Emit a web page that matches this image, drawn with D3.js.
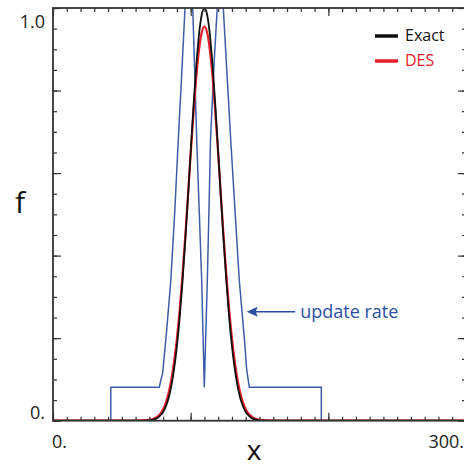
<!DOCTYPE html>
<meta charset="utf-8">
<script src="https://d3js.org/d3.v7.min.js"></script>
<style>
  body { margin: 0; background: #fff; }
  text { font-family: "Open Sans", "Noto Sans", sans-serif; }
</style>
<div id="my_dataviz"></div>
<script>

// values
var xCurve = [0, 60, 70, 75, 78, 80, 82, 84, 86, 88, 90, 92, 94, 96, 98, 100, 102, 104, 106, 108, 110,
              112, 114, 116, 118, 120, 122, 124, 126, 128, 130, 132, 134, 136, 138, 140, 142, 145, 150, 160, 300];
var fExact = [0, 0, 0.001, 0.005, 0.013, 0.021, 0.035, 0.055, 0.085, 0.126, 0.180, 0.249, 0.334, 0.432, 0.539, 0.651, 0.760, 0.857, 0.934, 0.983, 1.000,
              0.983, 0.934, 0.857, 0.760, 0.651, 0.539, 0.432, 0.334, 0.249, 0.180, 0.126, 0.085, 0.055, 0.035, 0.021, 0.013, 0.005, 0.001, 0, 0];
var fDES   = [0, 0, 0.002, 0.008, 0.017, 0.028, 0.044, 0.068, 0.100, 0.144, 0.199, 0.268, 0.350, 0.443, 0.543, 0.646, 0.743, 0.830, 0.897, 0.940, 0.955,
              0.940, 0.897, 0.830, 0.743, 0.646, 0.543, 0.443, 0.350, 0.268, 0.199, 0.144, 0.100, 0.068, 0.044, 0.028, 0.017, 0.008, 0.002, 0, 0];

// update rate (goes above the top of the frame, clipped there)
var xRate = [42, 42, 77.2, 78.4, 79.7, 82.6, 85.6, 88.5, 91.0, 93.5, 95.9, 97.5, 98.8, 100.2, 101.5, 103.0, 104.4, 106.2, 108.0, 109.9,
             112.1, 113.3, 114.4, 116.9, 119.3, 120.5, 121.5, 122.6, 123.7, 126.4, 129.1, 132.2, 135.3, 139.5, 140.7, 142.6, 194.9, 194.9];
var fRate = [0, 0.081, 0.081, 0.099, 0.116, 0.220, 0.341, 0.510, 0.680, 0.840, 1.0, 1.10, 1.14, 1.10, 1.0, 0.840, 0.680, 0.510, 0.341, 0.081,
             0.341, 0.510, 0.680, 0.860, 1.0, 1.10, 1.14, 1.10, 1.0, 0.840, 0.680, 0.510, 0.341, 0.179, 0.123, 0.081, 0.081, 0];

var xTickVals = [0, 300], xTickNames = ["0.", "300."];
var yTickVals = [0, 1], yTickNames = ["0.", "1.0"];
var seriesNames = ["Exact", "DES"];
var seriesColors = ["#111111", "#e8202a"];

var blue = "#3d5da8";

var svg = d3.select("#my_dataviz")
  .append("svg")
    .attr("width", 464)
    .attr("height", 467);

var x = d3.scaleLinear().domain([0, 300]).range([53, 466]);
var y = d3.scaleLinear().domain([0, 1]).range([420.7, 8]);

svg.append("clipPath").attr("id", "clip")
  .append("rect")
    .attr("x", x(0)).attr("y", y(1))
    .attr("width", x(300) - x(0)).attr("height", y(0) - y(1));

var line = d3.line()
  .x(function(d) { return x(d[0]) })
  .y(function(d) { return y(d[1]) });

// update rate
svg.append("path")
  .datum(d3.zip(xRate, fRate))
  .attr("clip-path", "url(#clip)")
  .attr("fill", "none")
  .attr("stroke", blue)
  .attr("stroke-width", 1.5)
  .attr("d", line);

// DES then Exact
svg.append("path")
  .datum(d3.zip(xCurve, fDES))
  .attr("clip-path", "url(#clip)")
  .attr("fill", "none")
  .attr("stroke", seriesColors[1])
  .attr("stroke-width", 2.2)
  .attr("d", d3.line().curve(d3.curveMonotoneX).x(function(d) { return x(d[0]) }).y(function(d) { return y(d[1]) }));

svg.append("path")
  .datum(d3.zip(xCurve, fExact))
  .attr("clip-path", "url(#clip)")
  .attr("fill", "none")
  .attr("stroke", seriesColors[0])
  .attr("stroke-width", 1.8)
  .attr("d", d3.line().curve(d3.curveMonotoneX).x(function(d) { return x(d[0]) }).y(function(d) { return y(d[1]) }));

// axes: ticks all pointing inward
var xMinor = d3.range(0, 301, 10), xMajor = [0, 100, 200, 300];
var yMinor = d3.range(0, 1.0001, 0.05), yMajor = [0, 0.2, 0.4, 0.6, 0.8, 1.0];

function addAxis(axis, tx, ty) {
  var g = svg.append("g")
    .attr("transform", "translate(" + tx + "," + ty + ")")
    .call(axis);
  g.select(".domain").remove();
  g.selectAll(".tick line").attr("stroke", "#333").attr("stroke-width", 1.2);
}

addAxis(d3.axisBottom(x).tickValues(xMinor).tickSize(-4).tickFormat(""), 0, y(0));
addAxis(d3.axisBottom(x).tickValues(xMajor).tickSize(-8).tickFormat(""), 0, y(0));
addAxis(d3.axisTop(x).tickValues(xMinor).tickSize(-4).tickFormat(""), 0, y(1));
addAxis(d3.axisTop(x).tickValues(xMajor).tickSize(-8).tickFormat(""), 0, y(1));
addAxis(d3.axisLeft(y).tickValues(yMinor).tickSize(-4).tickFormat(""), x(0), 0);
addAxis(d3.axisLeft(y).tickValues(yMajor).tickSize(-8).tickFormat(""), x(0), 0);
addAxis(d3.axisRight(y).tickValues(yMinor).tickSize(-4).tickFormat(""), x(300), 0);
addAxis(d3.axisRight(y).tickValues(yMajor).tickSize(-8).tickFormat(""), x(300), 0);

// frame
svg.append("rect")
  .attr("x", x(0)).attr("y", y(1))
  .attr("width", x(300) - x(0)).attr("height", y(0) - y(1))
  .attr("fill", "none")
  .attr("stroke", "#333")
  .attr("stroke-width", 1.8);

// tick labels
svg.selectAll(".xlab")
  .data(xTickVals)
  .enter().append("text")
    .attr("x", function(d, i) { return i == 0 ? x(d) - 1 : x(d) - 2 })
    .attr("y", y(0) + 27)
    .attr("text-anchor", function(d, i) { return i == 0 ? "start" : "end" })
    .attr("font-size", 18)
    .attr("fill", "#222")
    .text(function(d, i) { return xTickNames[i] });

svg.selectAll(".ylab")
  .data(yTickVals)
  .enter().append("text")
    .attr("x", x(0) - 8)
    .attr("y", function(d, i) { return i == 0 ? y(d) - 2 : y(d) + 20 })
    .attr("text-anchor", "end")
    .attr("font-size", 18)
    .attr("fill", "#222")
    .text(function(d, i) { return yTickNames[i] });

// axis titles
svg.append("text")
  .attr("x", 20).attr("y", 213)
  .attr("text-anchor", "middle")
  .attr("font-size", 30)
  .attr("fill", "#111")
  .text("f");

svg.append("text")
  .attr("x", 254).attr("y", 460)
  .attr("text-anchor", "middle")
  .attr("font-size", 28)
  .attr("fill", "#111")
  .text("x");

// legend
var legend = svg.selectAll(".legend")
  .data(seriesNames)
  .enter().append("g")
    .attr("transform", function(d, i) { return "translate(375," + (36 + i * 25) + ")" });
legend.append("line")
  .attr("x1", 0).attr("x2", 23)
  .attr("stroke", function(d, i) { return seriesColors[i] })
  .attr("stroke-width", 3.5);
legend.append("text")
  .attr("x", 30).attr("y", 5)
  .attr("font-size", 16)
  .attr("fill", function(d, i) { return seriesColors[i] })
  .text(function(d) { return d });

// update rate annotation
var arrowX = 140.7, arrowF = 0.264;
var ax = x(arrowX), ay = y(arrowF);
svg.append("path")
  .attr("d", "M" + ax + "," + ay + "L" + (ax + 11) + "," + (ay - 5) + "L" + (ax + 9) + "," + ay + "L" + (ax + 11) + "," + (ay + 5) + "Z")
  .attr("fill", "#2b4fa0");
svg.append("line")
  .attr("x1", ax + 8).attr("x2", ax + 48.5)
  .attr("y1", ay).attr("y2", ay)
  .attr("stroke", "#2b4fa0")
  .attr("stroke-width", 1.5);
svg.append("text")
  .attr("x", ax + 53.5).attr("y", ay + 6)
  .attr("font-size", 18)
  .attr("fill", "#2b4fa0")
  .text("update rate");

</script>
